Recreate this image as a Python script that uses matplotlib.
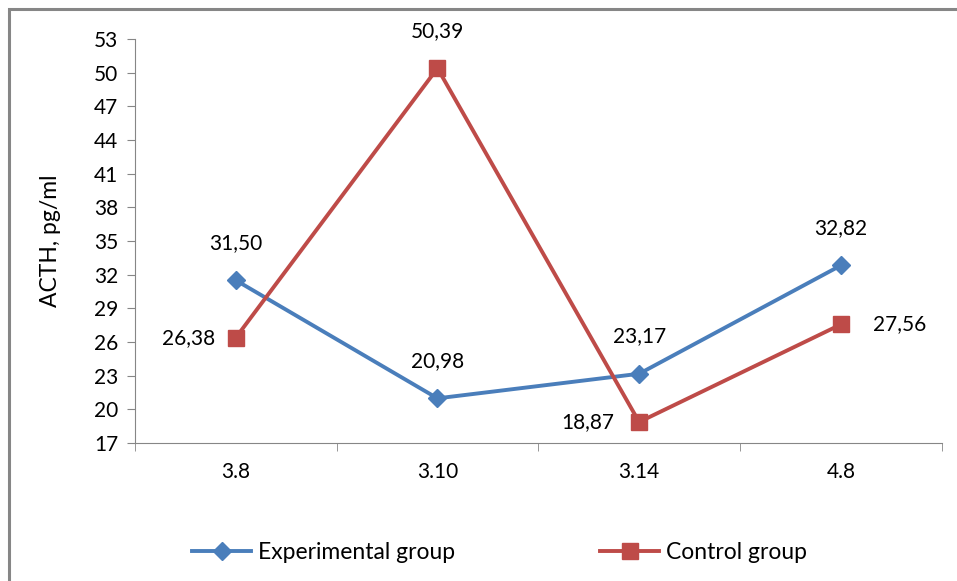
import matplotlib.pyplot as plt
from matplotlib.patches import Rectangle

categories = ["3.8", "3.10", "3.14", "4.8"]
experimental = [31.50, 20.98, 23.17, 32.82]
control = [26.38, 50.39, 18.87, 27.56]
yticks = list(range(17, 54, 3))

plt.rcParams['font.family'] = ['Lato', 'DejaVu Sans']

blue = "#4A7EBB"
red = "#BE4B48"
grey = "#868686"
fs = 15

fig = plt.figure(figsize=(9.57, 5.81), dpi=100)
ax = fig.add_axes([0.141, 0.2375, 0.843, 0.6955])

# outer chart frame (runs off the right and bottom edges)
fig.patches.append(Rectangle((9 / 957, -0.1), 1.2, 1 - 9 / 581 + 0.1,
                             transform=fig.transFigure, fill=False,
                             edgecolor=grey, linewidth=2.2))

x = list(range(len(categories)))
ax.plot(x, experimental, color=blue, lw=2.8, marker="D", ms=9,
        label="Experimental group", solid_joinstyle="miter")
ax.plot(x, control, color=red, lw=2.8, marker="s", ms=12,
        label="Control group", solid_joinstyle="miter")

fmt = lambda v: f"{v:.2f}".replace(".", ",")
for i, v in enumerate(experimental):
    ax.annotate(fmt(v), (i, v), xytext=(0, 27), textcoords="offset points",
                ha="center", va="center", fontsize=fs)
ctrl_offsets = [(-34, 0), (0, 27), (-37, 0), (42, 0)]
for i, v in enumerate(control):
    ax.annotate(fmt(v), (i, v), xytext=ctrl_offsets[i], textcoords="offset points",
                ha="center", va="center", fontsize=fs)

ax.set_xlim(-0.5, len(categories) - 0.5)
ax.set_ylim(17, 53)
ax.set_yticks(yticks)
ax.set_xticks(x)
ax.set_xticklabels(categories)
ax.set_xticks([i - 0.5 for i in range(len(categories) + 1)], minor=True)
ax.tick_params(axis="x", which="major", length=0, pad=14, labelsize=fs)
ax.tick_params(axis="x", which="minor", length=6, color=grey, direction="out")
ax.tick_params(axis="y", length=6, color=grey, pad=6, labelsize=fs)
for s in ["top", "right"]:
    ax.spines[s].set_visible(False)
for s in ["left", "bottom"]:
    ax.spines[s].set_color(grey)
ax.set_ylabel("ACTH, pg/ml", fontsize=16.5, labelpad=24)

leg = ax.legend(loc="center", bbox_to_anchor=(0.452, -0.27), ncol=2, frameon=False,
                fontsize=16.5, handlelength=2.6, columnspacing=6.3, handletextpad=0.3)

fig.savefig("out.png", dpi=100)
